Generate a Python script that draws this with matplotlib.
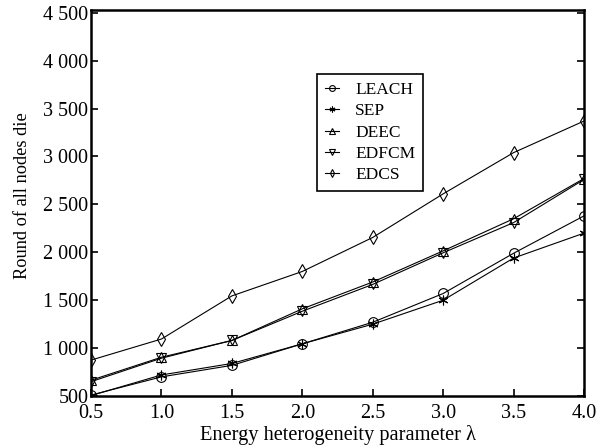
import matplotlib
matplotlib.use("Agg")
import matplotlib.pyplot as plt
from matplotlib.ticker import FuncFormatter

# Data
x = [0.5, 1.0, 1.5, 2.0, 2.5, 3.0, 3.5, 4.0]
leach = [510, 700, 820, 1045, 1270, 1570, 1990, 2380]
sep = [505, 720, 840, 1045, 1250, 1500, 1940, 2200]
deec = [665, 905, 1080, 1410, 1690, 2015, 2350, 2770]
edfcm = [650, 895, 1080, 1385, 1665, 1995, 2310, 2760]
edcs = [875, 1095, 1545, 1800, 2155, 2610, 3040, 3370]

series = [
    ("LEACH", leach, "o"),
    ("SEP", sep, (6, 2, 0)),
    ("DEEC", deec, "^"),
    ("EDFCM", edfcm, "v"),
    ("EDCS", edcs, "d"),
]


def thousands(v, pos):
    v = int(round(v))
    if v < 1000:
        return str(v)
    return f"{v // 1000} {v % 1000:03d}"


def main():
    plt.rcParams["font.family"] = ["Liberation Serif", "DejaVu Serif"]

    fig = plt.figure(figsize=(5.99, 4.48), dpi=100)
    ax = fig.add_axes([0.152, 0.116, 0.823, 0.862])

    for name, vals, mk in series:
        ax.plot(x, vals, color="black", linewidth=0.8, marker=mk,
                markersize=7, markerfacecolor="none",
                markeredgecolor="black", markeredgewidth=0.8, label=name)

    ax.set_xlim(0.5, 4.0)
    ax.set_ylim(500, 4530)
    ax.set_xticks(x)
    ax.set_yticks(range(500, 4501, 500))
    ax.yaxis.set_major_formatter(FuncFormatter(thousands))

    for s in ax.spines.values():
        s.set_linewidth(1.8)

    ax.tick_params(direction="in", length=5, width=1.2, labelsize=14.5,
                   right=True, top=False)
    ax.tick_params(axis="x", pad=6)
    ax.tick_params(axis="y", pad=2)

    ax.set_xlabel("Energy heterogeneity parameter λ", fontsize=14.7, labelpad=1)
    ax.set_ylabel("Round of all nodes die", fontsize=13.2)
    ax.yaxis.set_label_coords(-0.122, 0.52)

    leg = ax.legend(loc="upper left", bbox_to_anchor=(0.458, 0.834),
                    fontsize=12.5, fancybox=False, edgecolor="black",
                    handlelength=0.8, handletextpad=0.95, borderpad=0.45,
                    borderaxespad=0, labelspacing=0.3, markerscale=0.6,
                    framealpha=1)
    leg.get_frame().set_linewidth(1.2)

    fig.savefig("out.png", dpi=100)


if __name__ == "__main__":
    main()
